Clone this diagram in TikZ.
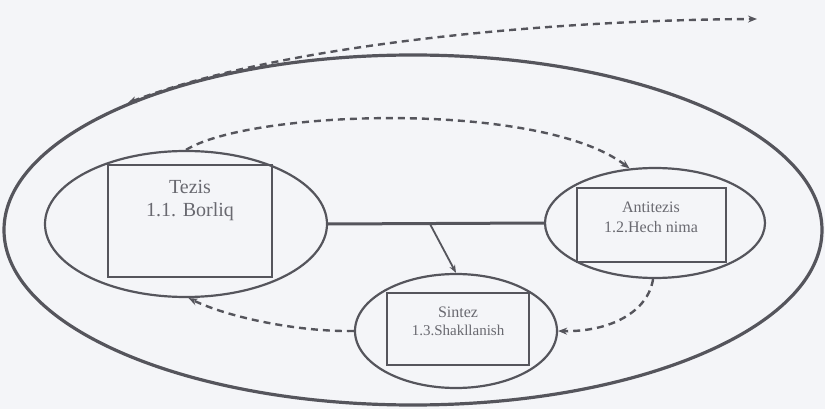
\documentclass[tikz,border=0pt]{standalone}
\usepackage{fontspec}
\setmainfont{Liberation Serif}
\usetikzlibrary{shapes.geometric,arrows.meta}
\definecolor{ink}{RGB}{85,85,92}
\definecolor{txt}{RGB}{105,105,112}
\definecolor{bg}{RGB}{244,245,248}
\begin{document}
\begin{tikzpicture}[x=1pt,y=-1pt,
  oval/.style={draw=ink,ellipse,inner sep=0pt,line width=2.2pt},
  box/.style={draw=ink,rectangle,inner sep=0pt,line width=1.5pt},
  lbl/.style={text=txt,align=center,inner sep=0pt},
  dsh/.style={draw=ink,line width=2.4pt,dash pattern=on 7pt off 5pt},
  tip/.style={-{Stealth[length=9pt,width=7pt]}}
]
\fill[bg] (0,0) rectangle (825,409);
\useasboundingbox (0,0) rectangle (825,409);
% outer ellipse
\node[oval,line width=3.2pt,minimum width=818pt,minimum height=350pt] (outer) at (413,230) {};
% Tezis
\node[oval,minimum width=282pt,minimum height=146pt] (te) at (186,224) {};
\node[box,minimum width=164pt,minimum height=112pt] (tebox) at (190,221) {};
\node[lbl,font=\fontsize{20}{24}\selectfont] (tet1) at (190,187) {Tezis};
\node[lbl,font=\fontsize{20}{24}\selectfont] (tet2) at (190,212) {1.1. Borliq};
% Antitezis
\node[oval,minimum width=220pt,minimum height=110pt] (an) at (655,223) {};
\node[box,minimum width=149pt,minimum height=74pt] (anbox) at (651.5,225) {};
\node[lbl,font=\fontsize{16}{19}\selectfont] (ant1) at (651,207) {Antitezis};
\node[lbl,font=\fontsize{16}{19}\selectfont] (ant2) at (651,227) {1.2.Hech nima};
% Sintez
\node[oval,minimum width=202pt,minimum height=114pt] (si) at (456,331) {};
\node[box,minimum width=142pt,minimum height=72pt] (sibox) at (458,329) {};
\node[lbl,font=\fontsize{16}{19}\selectfont] (sit1) at (458,312) {Sintez};
\node[lbl,font=\fontsize{15}{18}\selectfont] (sit2) at (458,330) {1.3.Shakllanish};
% connectors
\draw[ink,line width=3pt] (te.east) -- (an.west);
\coordinate (j) at (430,224);
\draw[ink,line width=1.8pt,-{Stealth[length=8pt,width=6pt]}] (j) -- (si.north);
\draw[dsh,tip] (te.north) .. controls (250,110) and (540,100) .. (an.115);
\draw[dsh,tip] (an.-92) .. controls (648,312) and (610,332) .. (si.east);
\draw[dsh,tip] (si.west) .. controls (300,332) and (230,318) .. (te.-88);
\coordinate (far) at (757,19);
\draw[dsh,{Stealth[length=9pt,width=7pt]}-{Stealth[length=9pt,width=7pt]}] (outer.156) .. controls (281,44) and (550,20) .. (far);
\end{tikzpicture}
\end{document}
